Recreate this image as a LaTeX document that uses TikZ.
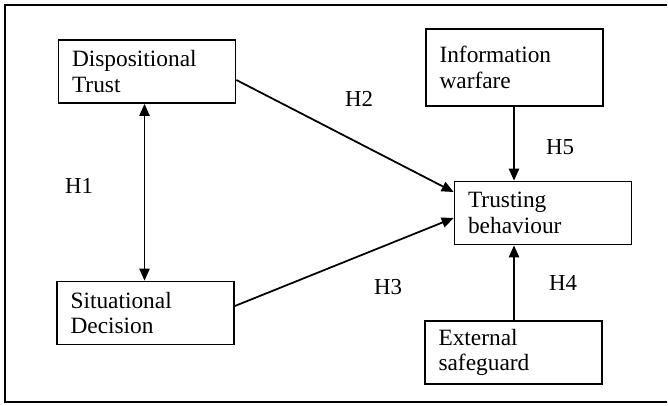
\documentclass[tikz,border=0pt]{standalone}
\usepackage{fontspec}
\setmainfont{Liberation Serif}
\usetikzlibrary{arrows.meta}
\tikzset{
  factor/.style={draw,line width=1pt,minimum width=3.54cm,minimum height=1.26cm,
    text width=3.0cm,align=left,inner xsep=0.26cm,font=\fontsize{13.3}{14.5}\selectfont},
  hyp/.style={font=\fontsize{13}{14.5}\selectfont},
  link/.style={line width=1pt,-{Triangle[length=6.8pt,width=5.8pt]}}
}
\begin{document}
\begin{tikzpicture}[x=0.02cm,y=-0.02cm]
        \useasboundingbox (0,0) rectangle (668,405);
        %% frame
        \draw[line width=1pt] (667,5) -- (5,5) -- (5,402) -- (667,402);
        %% factors
        \node[factor] (disp) at (147,71.5) {Dispositional\\Trust};
        \node[factor] (situ) at (145.5,313) {Situational\\Decision};
        \node[factor,minimum height=1.54cm] (info) at (514.5,67.5) {Information\\warfare};
        \node[factor] (trust) at (543,213) {Trusting\\behaviour};
        \node[factor] (ext) at (513.5,352.5) {External\\safeguard};
        %% H1
        \draw[link,{Triangle[length=6.8pt,width=5.8pt]}-{Triangle[length=6.8pt,width=5.8pt]}] ([xshift=-0.05cm]disp.south) -- ([xshift=-0.05cm]disp.south |- situ.north);
        %% H2 and H3
        \draw[link] ([yshift=-0.17cm]disp.east) -- ([yshift=0.42cm]trust.west);
        \draw[link] ([yshift=0.14cm]situ.east) -- ([yshift=-0.1cm]trust.west);
        %% H4 and H5
        \draw[link] (info.south -| 514,0) -- (trust.north -| 514,0);
        \draw[link] (ext.north -| 514,0) -- (trust.south -| 514,0);
        %% labels
        \node[hyp] (h1) at (79,186) {H1};
        \node[hyp] (h2) at (359,99) {H2};
        \node[hyp] (h3) at (388,287) {H3};
        \node[hyp] (h4) at (563,283) {H4};
        \node[hyp] (h5) at (560,147) {H5};
\end{tikzpicture}
\end{document}
